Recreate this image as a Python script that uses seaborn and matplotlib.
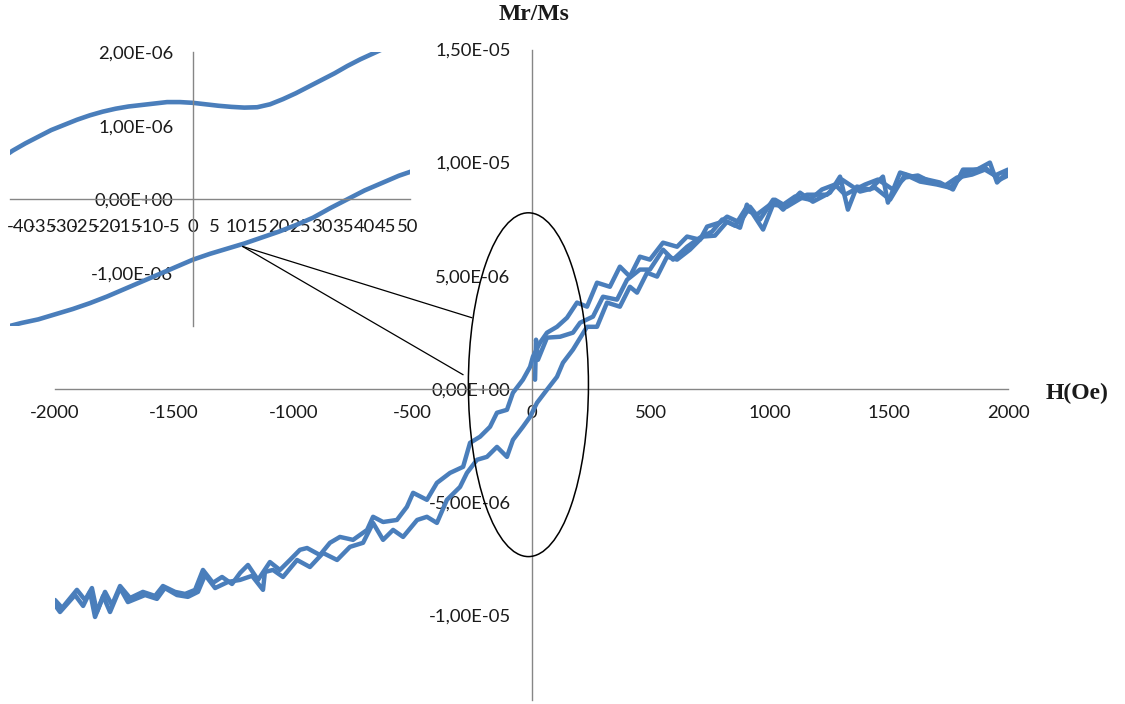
import numpy as np
import pandas as pd
import matplotlib
matplotlib.use("Agg")
import matplotlib.pyplot as plt
import seaborn as sns
from matplotlib.patches import Ellipse, ConnectionPatch
from matplotlib.ticker import FuncFormatter

# ---------------- data (M values in units of 1E-06) ----------------
# upper (descending) branch
H_upper = [-2000, -1970, -1908, -1874, -1845, -1824, -1790, -1761, -1727, -1685,
           -1631, -1580, -1547, -1496, -1454, -1412, -1379, -1337, -1299, -1257,
           -1223, -1190, -1148, -1098, -1056, -1014, -972, -942, -888, -846,
           -804, -749, -690, -665, -623, -565, -523, -497, -439, -397,
           -342, -287, -258, -216, -174, -145, -103, -78, -36, -6,
           6, 36, 65, 107, 149, 191, 233, 275, 329, 371,
           413, 455, 497, 552, 611, 653, 707, 737, 791, 821,
           875, 917, 959, 1014, 1056, 1127, 1181, 1253, 1295, 1328,
           1366, 1421, 1475, 1496, 1547, 1601, 1660, 1714, 1769, 1811,
           1870, 1924, 1954, 1996]
M_upper = [-9.34, -9.69, -8.89, -9.34, -8.81, -9.87, -8.98, -9.56, -8.72, -9.25,
           -8.98, -9.16, -8.72, -8.98, -9.07, -8.89, -8.01, -8.58, -8.32, -8.63,
           -8.14, -7.79, -8.45, -7.66, -8.01, -7.57, -7.12, -7.04, -7.35, -6.81,
           -6.55, -6.68, -6.24, -5.66, -5.89, -5.80, -5.22, -4.60, -4.91, -4.16,
           -3.72, -3.45, -2.39, -2.12, -1.68, -1.06, -0.93, -0.18, 0.40, 0.97,
           1.42, 2.04, 2.48, 2.74, 3.14, 3.81, 3.63, 4.69, 4.51, 5.40,
           4.96, 5.84, 5.71, 6.46, 6.28, 6.73, 6.59, 7.17, 7.35, 7.61,
           7.35, 8.05, 7.48, 8.36, 7.92, 8.67, 8.27, 8.67, 9.38, 7.92,
           8.94, 8.81, 9.38, 8.23, 9.56, 9.38, 9.25, 9.12, 8.81, 9.69,
           9.69, 10.00, 9.12, 9.56]

# lower (ascending) branch
H_lower = [-2000, -1979, -1916, -1882, -1853, -1832, -1798, -1769, -1727, -1694,
           -1622, -1572, -1539, -1488, -1442, -1400, -1370, -1328, -1274, -1223,
           -1173, -1127, -1119, -1085, -1043, -984, -930, -875, -816, -762,
           -707, -665, -623, -581, -539, -480, -439, -397, -355, -300,
           -271, -229, -187, -145, -103, -78, -36, -6, 23, 65,
           107, 132, 174, 233, 275, 317, 371, 413, 443, 485,
           527, 569, 611, 665, 720, 770, 821, 875, 904, 972,
           1022, 1072, 1156, 1240, 1303, 1379, 1442, 1505, 1568, 1631,
           1702, 1757, 1828, 1903, 1966, 2000]
M_lower = [-9.56, -9.87, -9.12, -9.60, -8.98, -10.09, -9.16, -9.87, -8.81, -9.43,
           -9.12, -9.29, -8.81, -9.12, -9.20, -8.98, -8.23, -8.81, -8.54, -8.45,
           -8.27, -8.89, -8.10, -8.01, -8.32, -7.57, -7.88, -7.26, -7.57, -6.99,
           -6.81, -5.93, -6.68, -6.24, -6.55, -5.80, -5.66, -5.93, -4.91, -4.34,
           -3.72, -3.14, -3.01, -2.57, -3.01, -2.26, -1.68, -1.24, -0.62, -0.04,
           0.53, 1.15, 1.73, 2.74, 2.74, 3.81, 3.63, 4.51, 4.25, 5.13,
           4.96, 5.84, 5.71, 6.15, 6.73, 6.77, 7.39, 7.12, 8.14, 7.04,
           8.36, 8.05, 8.58, 8.58, 9.25, 8.72, 8.89, 8.36, 9.47, 9.16,
           9.03, 8.89, 9.60, 9.78, 9.25, 9.43]

# initial curve
H_initial = [15, 19, 27, 65, 120, 174, 204, 258, 300, 359,
             401, 455, 497, 552, 594, 653, 707, 758, 800, 854,
             896, 946, 1001, 1051, 1106, 1169, 1219, 1274, 1316, 1358,
             1400, 1454, 1517, 1568, 1622, 1673, 1735, 1786, 1849, 1903,
             1945, 2000]
M_initial = [0.40, 2.17, 1.28, 2.26, 2.30, 2.48, 2.92, 3.19, 4.07, 3.94,
             4.82, 5.27, 5.27, 6.15, 5.71, 6.28, 6.68, 6.95, 7.48, 7.21,
             7.92, 7.70, 8.14, 8.10, 8.50, 8.36, 8.81, 9.03, 8.58, 8.81,
             9.03, 9.25, 8.81, 9.34, 9.43, 9.16, 8.98, 9.34, 9.47, 9.69,
             9.43, 9.69]

# inset (zoom around H = 0)
Hz_upper = [-44, -42, -39, -36, -33, -30, -27, -24, -21, -18,
            -15, -12, -9, -6, -3, 0, 3, 6, 9, 12,
            15, 18, 21, 24, 27, 30, 33, 36, 39, 42, 45]
Mz_upper = [0.58, 0.66, 0.76, 0.85, 0.94, 1.01, 1.08, 1.14, 1.19, 1.23,
            1.26, 1.28, 1.30, 1.32, 1.32, 1.31, 1.29, 1.27, 1.255, 1.245,
            1.25, 1.29, 1.36, 1.44, 1.53, 1.62, 1.71, 1.81, 1.90, 1.98, 2.06]
Hz_lower = [-44, -40, -36, -32, -28, -24, -20, -16, -12, -8,
            -4, 0, 4, 8, 12, 16, 20, 24, 28, 32,
            36, 40, 44, 48, 52]
Mz_lower = [-1.74, -1.68, -1.63, -1.56, -1.49, -1.41, -1.32, -1.22, -1.12, -1.02,
            -0.92, -0.82, -0.74, -0.67, -0.60, -0.52, -0.44, -0.35, -0.25, -0.12,
            0.00, 0.12, 0.22, 0.32, 0.40]

main_xticks = [-2000, -1500, -1000, -500, 0, 500, 1000, 1500, 2000]
main_yticks = [-1.0e-5, -5.0e-6, 0, 5.0e-6, 1.0e-5, 1.5e-5]
inset_xticks = list(range(-40, 51, 5))
inset_yticks = [-1.0e-6, 0, 1.0e-6, 2.0e-6]

# ---------------- style ----------------
sns.set_theme(style="white")
plt.rcParams['font.family'] = ['Lato', 'DejaVu Sans']
plt.rcParams['axes.unicode_minus'] = False

LINE = '#4a7ebb'
AXC = '#868686'
TXT = '#1a1a1a'
FS = 13.3

fmt = FuncFormatter(lambda v, p: f"{v:.2E}".replace('.', ','))

fig = plt.figure(figsize=(11.25, 7.04), dpi=100)

# ---------------- main axes ----------------
ax = fig.add_axes([55/1125, 4/704, 953/1125, 650.5/704])
for H, M in [(H_upper, M_upper), (H_lower, M_lower), (H_initial, M_initial)]:
    df = pd.DataFrame({'H': H, 'M': np.array(M) * 1e-6})
    sns.lineplot(data=df, x='H', y='M', sort=False, estimator=None,
                 color=LINE, lw=3.2, ax=ax, solid_joinstyle='round',
                 solid_capstyle='round', zorder=3)

ax.set_xlim(-2000, 2000)
ax.set_ylim(-1.376e-5, 1.5e-5)
ax.set_xticks(main_xticks)
ax.set_yticks(main_yticks)
ax.yaxis.set_major_formatter(fmt)
ax.set_xlabel('')
ax.set_ylabel('')
for s in ['top', 'right']:
    ax.spines[s].set_visible(False)
ax.spines['left'].set_position(('data', 0))
ax.spines['bottom'].set_position(('data', 0))
for s in ['left', 'bottom']:
    ax.spines[s].set_color(AXC)
    ax.spines[s].set_linewidth(1.0)
ax.tick_params(axis='both', direction='out', length=6, width=1, color=AXC,
               labelsize=FS, labelcolor=TXT)
ax.tick_params(axis='x', pad=6)
ax.tick_params(axis='y', pad=9)
ax.patch.set_alpha(0)

# ellipse marking the zoomed region
ell = Ellipse((-13, 0.18e-6), width=504, height=15.2e-6, fill=False,
              ec='black', lw=1.1, zorder=4)
ax.add_patch(ell)

# axis titles
fig.text(534/1125, 1 - 14/704, 'Mr/Ms', ha='center', va='center',
         family=['Liberation Serif', 'DejaVu Serif'], weight='bold', fontsize=17, color=TXT)
fig.text(1077/1125, 1 - 393/704, 'H(Oe)', ha='center', va='center',
         family=['Liberation Serif', 'DejaVu Serif'], weight='bold', fontsize=17, color=TXT)

# ---------------- inset ----------------
axi = fig.add_axes([10/1125, 1 - 326/704, 400/1125, 274/704])
axi.patch.set_alpha(0)
for H, M in [(Hz_upper, Mz_upper), (Hz_lower, Mz_lower)]:
    df = pd.DataFrame({'H': H, 'M': np.array(M) * 1e-6})
    sns.lineplot(data=df, x='H', y='M', sort=False, estimator=None,
                 color=LINE, lw=3.3, ax=axi, solid_joinstyle='round',
                 solid_capstyle='butt')
axi.set_xlim(-42.6, 50.6)
axi.set_ylim(-1.72e-6, 2.0e-6)
axi.set_xticks(inset_xticks)
axi.set_yticks(inset_yticks)
axi.yaxis.set_major_formatter(fmt)
axi.set_xlabel('')
axi.set_ylabel('')
for s in ['top', 'right']:
    axi.spines[s].set_visible(False)
axi.spines['left'].set_position(('data', 0))
axi.spines['bottom'].set_position(('data', 0))
for s in ['left', 'bottom']:
    axi.spines[s].set_color(AXC)
    axi.spines[s].set_linewidth(1.0)
axi.tick_params(axis='both', direction='out', length=5, width=1, color=AXC,
                labelsize=FS, labelcolor=TXT)
axi.tick_params(axis='x', pad=9)
axi.tick_params(axis='y', pad=9)

# connector lines from inset to ellipse
for xyB in [(-250, 3.14e-6), (-287, 0.62e-6)]:
    cp = ConnectionPatch(xyA=(11.6, -0.64e-6), coordsA=axi.transData,
                         xyB=xyB, coordsB=ax.transData,
                         color='black', lw=0.9, zorder=5)
    fig.add_artist(cp)

fig.savefig('out.png', dpi=100)
